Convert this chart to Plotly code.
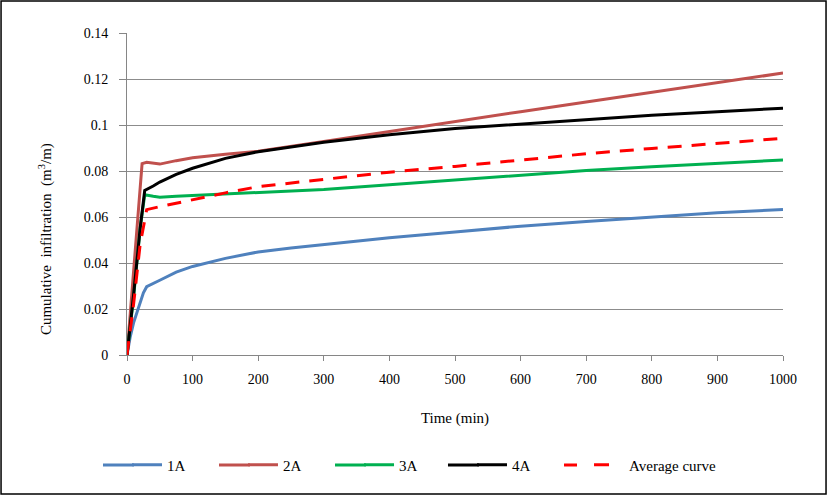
import plotly.graph_objects as go

# Data (time in minutes, cumulative infiltration m3/m)
t_1a = [0, 5, 10, 20, 25, 30, 40, 50, 75, 100, 150, 200, 250, 300, 400, 500, 600, 700, 800, 900, 1000]
v_1a = [0, 0.008, 0.014, 0.023, 0.027, 0.0297, 0.031, 0.0325, 0.036, 0.0385, 0.042, 0.0448, 0.0465, 0.048, 0.051, 0.0535, 0.056, 0.058, 0.060, 0.0618, 0.0633]

t_2a = [0, 10, 20, 23, 30, 40, 50, 75, 100, 150, 200, 300, 400, 500, 600, 700, 800, 900, 1000]
v_2a = [0, 0.035, 0.072, 0.0832, 0.0838, 0.0834, 0.0830, 0.0845, 0.0858, 0.0873, 0.0886, 0.0928, 0.0972, 0.1015, 0.1058, 0.1100, 0.1143, 0.1185, 0.1226]

t_3a = [0, 10, 20, 27, 40, 50, 75, 100, 200, 300, 400, 500, 600, 700, 800, 900, 1000]
v_3a = [0, 0.025, 0.055, 0.0697, 0.0690, 0.0686, 0.0690, 0.0693, 0.0705, 0.0720, 0.0740, 0.0760, 0.0780, 0.0802, 0.0818, 0.0833, 0.0848]

t_4a = [0, 10, 20, 27, 40, 50, 75, 100, 150, 200, 300, 400, 500, 600, 700, 800, 900, 1000]
v_4a = [0, 0.026, 0.055, 0.0715, 0.0735, 0.0752, 0.0785, 0.0812, 0.0855, 0.0884, 0.0925, 0.0958, 0.0985, 0.1005, 0.1025, 0.1042, 0.1058, 0.1073]

t_avg = [0, 10, 20, 30, 50, 75, 100, 150, 200, 300, 400, 500, 600, 700, 800, 900, 1000]
v_avg = [0, 0.022, 0.048, 0.0632, 0.0645, 0.066, 0.0678, 0.0705, 0.0732, 0.0765, 0.0795, 0.082, 0.0848, 0.0875, 0.0898, 0.092, 0.0942]

series_names = ["1A", "2A", "3A", "4A", "Average curve"]
x_ticks = [0, 100, 200, 300, 400, 500, 600, 700, 800, 900, 1000]
y_ticks = [0, 0.02, 0.04, 0.06, 0.08, 0.1, 0.12, 0.14]
y_tick_labels = ["0", "0.02", "0.04", "0.06", "0.08", "0.1", "0.12", "0.14"]
x_title = "Time (min)"
y_title = "Cumulative  infiltration  (m<sup>3</sup>/m)"

FONT = "Liberation Serif"
colors = ["#4F81BD", "#C0504D", "#00B050", "#000000", "#FF0000"]

series = [(t_1a, v_1a), (t_2a, v_2a), (t_3a, v_3a), (t_4a, v_4a), (t_avg, v_avg)]
legend_ids = ["legend", "legend2", "legend3", "legend4", "legend5"]
# legend placement (paper coords) and swatch extension segments
legend_x = [0.0, 0.1768, 0.3537, 0.5259, 0.7043]
swatch_ext = [(-0.0366, 0.0107), (0.1402, 0.1875), (0.3171, 0.3643), (0.4893, 0.5366), (0.6662, 0.6860)]
LEG_Y = -0.3416

fig = go.Figure()
for i, ((tx, vy), name, lid, col) in enumerate(zip(series, series_names, legend_ids, colors)):
    is_avg = (i == 4)
    ln = dict(color=col, width=3)
    if is_avg:
        ln["dash"] = "14px,10px"
    fig.add_trace(go.Scatter(x=tx, y=vy, mode="lines", name=name, line=ln,
                             legend=lid, showlegend=not is_avg, legendgroup=name))
    if is_avg:
        # legend entry for the average curve (swatch with a single dash)
        fig.add_trace(go.Scatter(x=[None], y=[None], mode="lines", name=name,
                                 line=dict(color=col, width=3, dash="15px,40px"),
                                 legend=lid, showlegend=True, legendgroup=name))

legend_layout = {}
for lid, lx in zip(legend_ids, legend_x):
    legend_layout[lid] = dict(orientation="h", x=lx, xanchor="left", y=LEG_Y, yanchor="middle",
                              font=dict(family=FONT, size=15), bgcolor="rgba(0,0,0,0)")

shapes = [dict(type="rect", xref="paper", yref="paper",
               x0=-0.192, x1=1.0656, y0=-0.4317, y1=1.0994,
               line=dict(color="black", width=1.5), fillcolor="rgba(0,0,0,0)")]
for (x0, x1), col in zip(swatch_ext, colors):
    shapes.append(dict(type="line", xref="paper", yref="paper", x0=x0, x1=x1, y0=LEG_Y, y1=LEG_Y,
                       line=dict(color=col, width=3)))

fig.update_layout(
    width=828, height=496,
    margin=dict(l=127, r=45, t=33, b=141),
    paper_bgcolor="white", plot_bgcolor="white",
    font=dict(family=FONT, size=14, color="black"),
    showlegend=True,
    xaxis=dict(range=[0, 1000], tickvals=x_ticks, ticks="outside", ticklen=5,
               tickcolor="#868686", showline=True, linecolor="#868686", linewidth=1,
               showgrid=False, zeroline=False, ticklabelstandoff=6,
               tickfont=dict(family=FONT, size=14),
               title=dict(text=x_title, standoff=26, font=dict(family=FONT, size=15))),
    yaxis=dict(range=[0, 0.14], tickvals=y_ticks, ticktext=y_tick_labels,
               ticks="outside", ticklen=7, tickcolor="#868686",
               showline=True, linecolor="#868686", linewidth=1,
               showgrid=True, gridcolor="#8c8c8c", gridwidth=1, zeroline=False,
               ticklabelstandoff=8,
               tickfont=dict(family=FONT, size=14)),
    annotations=[dict(text=y_title, xref="paper", yref="paper", x=-0.125, y=0.36,
                      xanchor="center", yanchor="middle", textangle=-90, showarrow=False,
                      font=dict(family=FONT, size=15))],
    shapes=shapes,
    **legend_layout,
)

fig.write_html("out.html")
